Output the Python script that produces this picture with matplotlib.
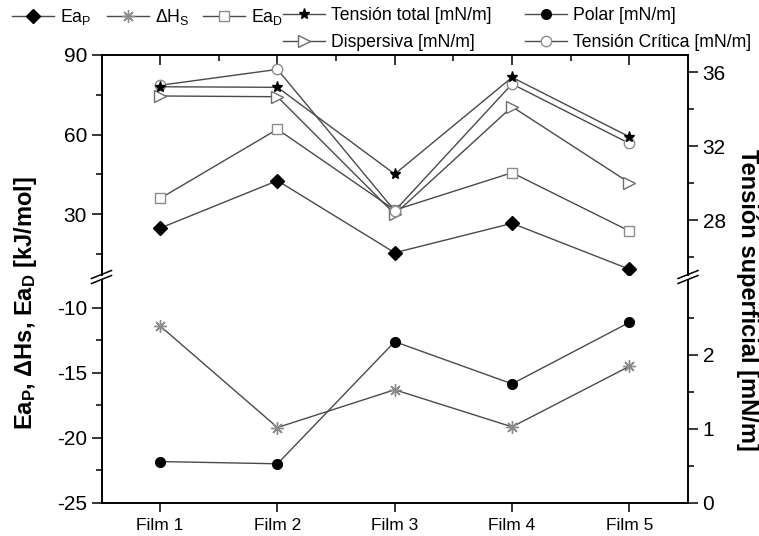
import numpy as np
import matplotlib.pyplot as plt
from matplotlib.lines import Line2D

# datos por film
films = ["Film 1", "Film 2", "Film 3", "Film 4", "Film 5"]
ea_p = [24.7, 42.6, 15.4, 26.5, 9.2]            # kJ/mol
ea_d = [35.9, 62.0, 31.5, 45.6, 23.6]           # kJ/mol
dh_s = [-11.4, -19.2, -16.3, -19.15, -14.5]     # kJ/mol
t_total = [35.22, 35.19, 30.49, 35.73, 32.51]   # mN/m
t_disp = [34.72, 34.68, 28.32, 34.14, 30.02]    # mN/m
t_crit = [35.30, 36.16, 28.50, 35.37, 32.15]    # mN/m
t_polar = [0.56, 0.53, 2.18, 1.61, 2.44]        # mN/m

x = np.arange(1, len(films) + 1)

plt.rcParams['font.family'] = ['Liberation Sans', 'DejaVu Sans']
plt.rcParams['mathtext.fontset'] = 'custom'
plt.rcParams['mathtext.rm'] = 'Liberation Sans'
plt.rcParams['mathtext.default'] = 'regular'
plt.rcParams['axes.unicode_minus'] = False

W, H = 759, 536
fig = plt.figure(figsize=(W / 100, H / 100), dpi=100)


def box(l, t, r, b):
    return [l / W, 1 - b / H, (r - l) / W, (b - t) / H]


XL, XR = 101.5, 688
Y_TOP, Y_BRK1, Y_BRK2, Y_BOT = 55, 274.5, 279.5, 503

ax_hi = fig.add_axes(box(XL, Y_TOP, XR, Y_BRK1))
ax_lo = fig.add_axes(box(XL, Y_BRK2, XR, Y_BOT))
ax_hi_r = ax_hi.twinx()
ax_lo_r = ax_lo.twinx()

lc = '#4a4a4a'
lw = 1.0
st = dict(color=lc, lw=lw)
s_ea_p = dict(marker='D', ms=7.5, mfc='black', mec='black', **st)
s_dh_s = dict(marker=(8, 2, 0), ms=9, mec='#8c8c8c', mew=1.0, **st)
s_ea_d = dict(marker='s', ms=6.5, mfc='white', mec='#8c8c8c', mew=1.0, **st)
s_tot = dict(marker='*', ms=8, mfc='black', mec='black', **st)
s_disp = dict(marker='>', ms=8.5, mfc='white', mec='#6e6e6e', mew=1.0, **st)
s_pol = dict(marker='o', ms=7, mfc='black', mec='black', **st)
s_crit = dict(marker='o', ms=7.5, mfc='white', mec='#8c8c8c', mew=1.0, **st)

ax_hi.plot(x, ea_p, **s_ea_p)
ax_hi.plot(x, ea_d, **s_ea_d)
ax_lo.plot(x, dh_s, **s_dh_s)
ax_hi_r.plot(x, t_disp, **s_disp)
ax_hi_r.plot(x, t_crit, **s_crit)
ax_hi_r.plot(x, t_total, **s_tot)
ax_lo_r.plot(x, t_polar, **s_pol)

for a in (ax_hi, ax_lo):
    a.set_xlim(0.5, 5.5)

ax_hi.set_ylim(7.2, 90)
ax_hi_r.set_ylim(25.05, 36.94)
ax_lo.set_ylim(-25, -7.83)
ax_lo_r.set_ylim(0, 3.02)

ax_hi.set_yticks([30, 60, 90])
ax_hi.set_yticks([15, 45, 75], minor=True)
ax_hi_r.set_yticks([28, 32, 36])
ax_hi_r.set_yticks([26, 30, 34], minor=True)
ax_lo.set_yticks([-25, -20, -15, -10])
ax_lo.set_yticks([-22.5, -17.5, -12.5], minor=True)
ax_lo_r.set_yticks([0, 1, 2])
ax_lo_r.set_yticks([0.5, 1.5, 2.5], minor=True)

ax_hi.set_xticks(x)
ax_hi.set_xticks(x[:-1] + 0.5, minor=True)
ax_hi.tick_params(axis='x', which='both', bottom=False, top=True,
                  labelbottom=False, direction='in', width=1.1)
ax_hi.tick_params(axis='x', which='major', length=7)
ax_hi.tick_params(axis='x', which='minor', length=4.5)

ax_lo.set_xticks(x, films)
ax_lo.tick_params(axis='x', which='major', direction='out', length=6.5,
                  width=1.1, labelsize=12.5, pad=4)

for a in (ax_hi, ax_lo, ax_hi_r, ax_lo_r):
    a.tick_params(axis='y', which='major', direction='out', length=7.5,
                  width=1.1, labelsize=15, pad=3)
    a.tick_params(axis='y', which='minor', direction='out', length=4,
                  width=1.1)
    for s in a.spines.values():
        s.set_linewidth(1.2)

for a in (ax_hi, ax_hi_r):
    a.spines['bottom'].set_visible(False)
for a in (ax_lo, ax_lo_r):
    a.spines['top'].set_visible(False)

# marcas de corte del eje
for xb in (XL, XR):
    for yb in (Y_BRK1, Y_BRK2):
        fig.add_artist(Line2D([(xb - 10) / W, (xb + 10) / W],
                              [1 - (yb + 4) / H, 1 - (yb - 4) / H],
                              color='black', lw=1.1))

fig.text(26 / W, 1 - 303 / H, 'Ea$_P$, ΔHs, Ea$_D$ [kJ/mol]', rotation=90,
         ha='center', va='center', fontsize=17, fontweight='bold')
fig.text(748 / W, 1 - 300 / H, 'Tensión superficial [mN/m]', rotation=270,
         ha='center', va='center', fontsize=17, fontweight='bold')

# leyenda
def h(style):
    return Line2D([], [], **style)


leg_kw = dict(frameon=False, borderpad=0, borderaxespad=0, fontsize=12.7,
              handlelength=2.4, handletextpad=0.3, labelspacing=0.55,
              numpoints=1, loc='upper left')
top_y = 1 - 7 / H
for style, label, x0 in [(s_ea_p, 'Ea$_P$', 12), (s_dh_s, 'ΔH$_S$', 107),
                         (s_ea_d, 'Ea$_D$', 203)]:
    fig.legend([h(style)], [label], bbox_to_anchor=(x0 / W, top_y), **leg_kw)
fig.legend([h(s_tot), h(s_disp)],
           ['Tensión total [mN/m]', 'Dispersiva [mN/m]'],
           bbox_to_anchor=(283 / W, top_y), **leg_kw)
fig.legend([h(s_pol), h(s_crit)],
           ['Polar [mN/m]', 'Tensión Crítica [mN/m]'],
           bbox_to_anchor=(525 / W, top_y), **leg_kw)

fig.savefig('out.png', dpi=100)
